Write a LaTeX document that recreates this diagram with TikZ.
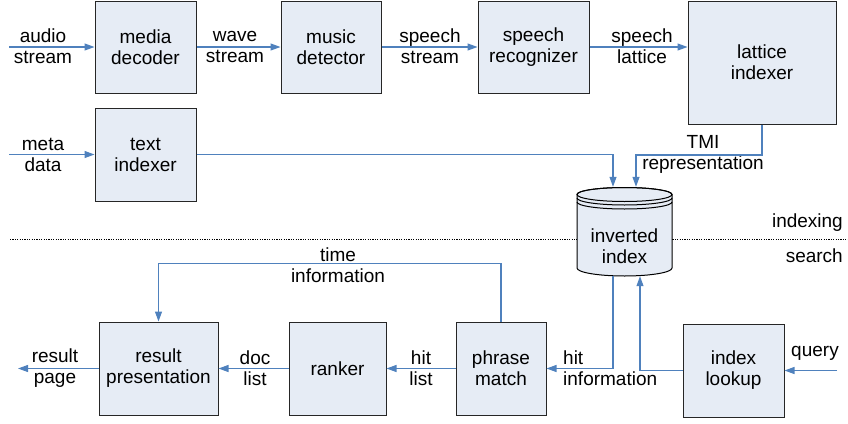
\documentclass[tikz,border=0pt]{standalone}
\usepackage{fontspec}
\setmainfont{Liberation Sans}
\usetikzlibrary{arrows.meta}
\definecolor{flowblue}{RGB}{79, 129, 189}
\definecolor{boxfill}{RGB}{230, 236, 245}

\begin{document}
\begin{tikzpicture}[x = 1pt, y = -1pt,
        every node/.style = {font = \fontsize{19}{21}\selectfont, align = center, inner sep = 0pt},
        box/.style = {draw = black!85, line width = 1pt, fill = boxfill, minimum height = 92pt},
        flow/.style = {draw = flowblue, line width = 1.1pt, -{Triangle[length = 10pt, width = 7pt]}}]
        \useasboundingbox (0, 0) rectangle (848, 423);
        % indexing / search border
        \draw[line width = 1pt, dash pattern = on 1.2pt off 1.2pt] (10, 239) -- (848, 239);
        \node[anchor = base east] (indexing) at (843, 227) {indexing};
        \node[anchor = base east] (search) at (843, 262) {search};
        % inverted index
        \draw[line width = 1pt, fill = boxfill] (577, 268) arc (180:360:47.5pt and 8pt)
                -- (672, 194.5) arc (0:180:47.5pt and 7pt) -- cycle;
        \draw[line width = 1pt] (624.5, 194.5) ellipse (47.5pt and 7pt);
        \draw[line width = 1pt] (577, 198) arc (180:360:47.5pt and 7pt);
        \draw[line width = 1pt] (577, 202) arc (180:360:47.5pt and 7pt);
        \node[minimum width = 95pt, minimum height = 89pt] (index) at (624.5, 231.5) {};
        \node (indextext) at (624.5, 246) {inverted\\index};
        % boxes
        \node[box, minimum width = 101pt] (decoder) at (145.5, 47) {media\\decoder};
        \node[box, minimum width = 100pt] (detector) at (331, 47) {music\\detector};
        \node[box, minimum width = 111pt] (recognizer) at (533.5, 47) {speech\\recognizer};
        \node[box, minimum width = 148pt, minimum height = 123pt] (lattice) at (762, 62.5) {lattice\\indexer};
        \node[box, minimum width = 101pt, minimum height = 93pt] (textidx) at (145.5, 154.5) {text\\indexer};
        \node[box, minimum width = 119pt, minimum height = 93pt] (presentation) at (158.5, 368.5) {result\\presentation};
        \node[box, minimum width = 97pt, minimum height = 93pt] (ranker) at (337.5, 368.5) {ranker};
        \node[box, minimum width = 90pt, minimum height = 93pt] (match) at (501, 368.5) {phrase\\match};
        \node[box, minimum width = 101pt, minimum height = 93pt] (lookup) at (733.5, 370.5) {index\\lookup};
        % free ends
        \coordinate (audioin) at (9, 47);
        \coordinate (metain) at (9, 154.5);
        \coordinate (queryin) at (837, 370.5);
        \coordinate (pageout) at (18, 368.5);
        % labels
        \node (audio) at (43, 46.5) {audio\\stream};
        \node (wave) at (235, 46.5) {wave\\stream};
        \node (speech) at (430, 46.5) {speech\\stream};
        \node (slattice) at (642, 46.5) {speech\\lattice};
        \node (meta) at (43, 154.5) {meta\\data};
        \node (tmi) at (703, 154) {TMI\\representation};
        \node (time) at (338, 265) {time\\information};
        \node (page) at (55, 368) {result\\page};
        \node (doc) at (255, 368) {doc\\list};
        \node (hitlist) at (421, 368) {hit\\list};
        \node[anchor = west, align = left] (hitinfo) at (563, 368) {hit\\information};
        \node[anchor = base] (query) at (815, 356) {query};
        % connectors
        \draw[flow] (audioin) -- (decoder);
        \draw[flow] (decoder) -- (detector);
        \draw[flow] (detector) -- (recognizer);
        \draw[flow] (recognizer.east) -- (lattice.west |- recognizer.east);
        \draw[flow] (metain) -- (textidx);
        \draw[flow] (textidx.east) -| ([xshift = -11.5pt]index.north);
        \draw[flow] (lattice.south) -- ++(0, 30.5) -| ([xshift = 11.5pt]index.north);
        \draw[flow] ([xshift = -11.5pt]index.south) |- (match.east);
        \draw[flow] (lookup.west) -| ([xshift = 15.5pt]index.south);
        \draw[flow] (queryin) -- (lookup.east);
        \draw[flow] (match.north) -- ++(0, -58) -| (presentation.north);
        \draw[flow] (match) -- (ranker);
        \draw[flow] (ranker) -- (presentation);
        \draw[flow] (presentation) -- (pageout);
      \end{tikzpicture}
\end{document}
